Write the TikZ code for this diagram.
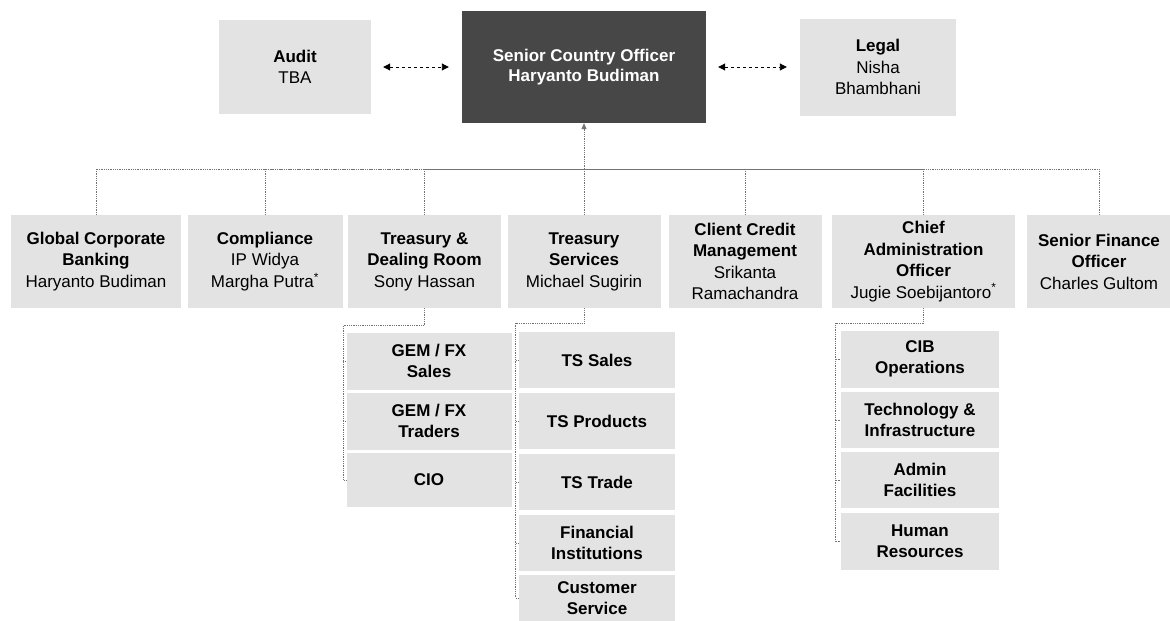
\documentclass[tikz,border=0pt]{standalone}
\usepackage{fontspec}
\setmainfont{Liberation Sans}
\usetikzlibrary{arrows.meta}

\tikzset{
    caja/.style={fill=black!11, align=center, inner sep=0pt, font=\fontsize{17}{21.5}\selectfont},
    jefe/.style={caja, fill=black!72, text=white, font=\fontsize{17}{20}\selectfont\bfseries},
    enlace/.style={black!55, densely dotted, line width=0.8pt},
    lateral/.style={black, line width=0.9pt, dash pattern=on 3pt off 3pt,
        {Triangle[length=7pt,width=7pt]}-{Triangle[length=7pt,width=7pt]},
        shorten <=12pt, shorten >=13pt}
}

\begin{document}
\begin{tikzpicture}[x=1pt,y=-1pt]
                \useasboundingbox (0,0) rectangle (1170,621);

                % Fila superior
                \node[jefe, minimum width=244, minimum height=112] (sco) at (584,67) {Senior Country Officer\\Haryanto Budiman};
                \node[caja, minimum width=152, minimum height=94] (audit) at (295,67) {\textbf{Audit}\\TBA};
                \node[caja, minimum width=156, minimum height=97] (legal) at (878,67) {\textbf{Legal}\\Nisha\\Bhambhani};
                \draw[lateral] (audit) -- (sco);
                \draw[lateral] (sco) -- (legal);

                % Barra de enlace
                \coordinate (bus) at (584,169);
                \draw[enlace, -{Triangle[length=6pt,width=5pt]}] (bus) -- (sco.south);

                % Segunda fila
                \node[caja, minimum width=170, minimum height=93] (gcb) at (96,261.5) {\textbf{Global Corporate}\\\textbf{Banking}\\Haryanto Budiman};
                \node[caja, minimum width=155, minimum height=93] (comp) at (265,261.5) {\textbf{Compliance}\\IP Widya\\Margha Putra\textsuperscript{*}};
                \node[caja, minimum width=153, minimum height=93] (tdr) at (424.5,261.5) {\textbf{Treasury \&}\\\textbf{Dealing Room}\\Sony Hassan};
                \node[caja, minimum width=153, minimum height=93] (tsv) at (584,261.5) {\textbf{Treasury}\\\textbf{Services}\\Michael Sugirin};
                \node[caja, minimum width=153, minimum height=93] (ccm) at (745,261.5) {\textbf{Client Credit}\\\textbf{Management}\\Srikanta\\Ramachandra};
                \node[caja, minimum width=183, minimum height=93] (cao) at (923.5,261.5) {\textbf{Chief}\\\textbf{Administration}\\\textbf{Officer}\\Jugie Soebijantoro\textsuperscript{*}};
                \node[caja, minimum width=145, minimum height=93] (sfo) at (1099,261.5) {\textbf{Senior Finance}\\\textbf{Officer}\\Charles Gultom};
                \foreach \n in {gcb,comp,tdr,tsv,ccm,cao,sfo}
                    \draw[enlace] (\n.north) |- (bus);

                % Treasury & Dealing Room
                \node[caja, minimum width=165, minimum height=57] (gems) at (429,361) {\textbf{GEM / FX}\\\textbf{Sales}};
                \node[caja, minimum width=165, minimum height=57] (gemt) at (429,421) {\textbf{GEM / FX}\\\textbf{Traders}};
                \node[caja, minimum width=165, minimum height=54] (cio) at (429,480) {\textbf{CIO}};
                \draw[enlace] (tdr.south) -- ++(0,17) -| ([xshift=-3pt]cio.west) -- (cio.west);
                \draw[enlace] ([xshift=-3pt]gems.west) -- (gems.west);
                \draw[enlace] ([xshift=-3pt]gemt.west) -- (gemt.west);

                % Treasury Services
                \node[caja, minimum width=156, minimum height=56] (tss) at (597,360) {\textbf{TS Sales}};
                \node[caja, minimum width=156, minimum height=56] (tsp) at (597,421) {\textbf{TS Products}};
                \node[caja, minimum width=156, minimum height=56] (tst) at (597,482) {\textbf{TS Trade}};
                \node[caja, minimum width=156, minimum height=56] (fin) at (597,543) {\textbf{Financial}\\\textbf{Institutions}};
                \node[caja, minimum width=156, minimum height=46] (csv) at (597,598) {\textbf{Customer}\\\textbf{Service}};
                \draw[enlace] (tsv.south) -- ++(0,15) -| ([xshift=-3pt]csv.west) -- (csv.west);
                \foreach \n in {tss,tsp,tst,fin}
                    \draw[enlace] ([xshift=-3pt]\n.west) -- (\n.west);

                % Chief Administration Officer
                \node[caja, minimum width=158, minimum height=57] (cib) at (920,359) {\textbf{CIB}\\\textbf{Operations}};
                \node[caja, minimum width=158, minimum height=56] (tec) at (920,420) {\textbf{Technology \&}\\\textbf{Infrastructure}};
                \node[caja, minimum width=158, minimum height=56] (adm) at (920,480) {\textbf{Admin}\\\textbf{Facilities}};
                \node[caja, minimum width=158, minimum height=57] (hrs) at (920,541) {\textbf{Human}\\\textbf{Resources}};
                \draw[enlace] (cao.south) -- ++(0,15) -| ([xshift=-5pt]hrs.west) -- (hrs.west);
                \foreach \n in {cib,tec,adm}
                    \draw[enlace] ([xshift=-5pt]\n.west) -- (\n.west);

\end{tikzpicture}
\end{document}
